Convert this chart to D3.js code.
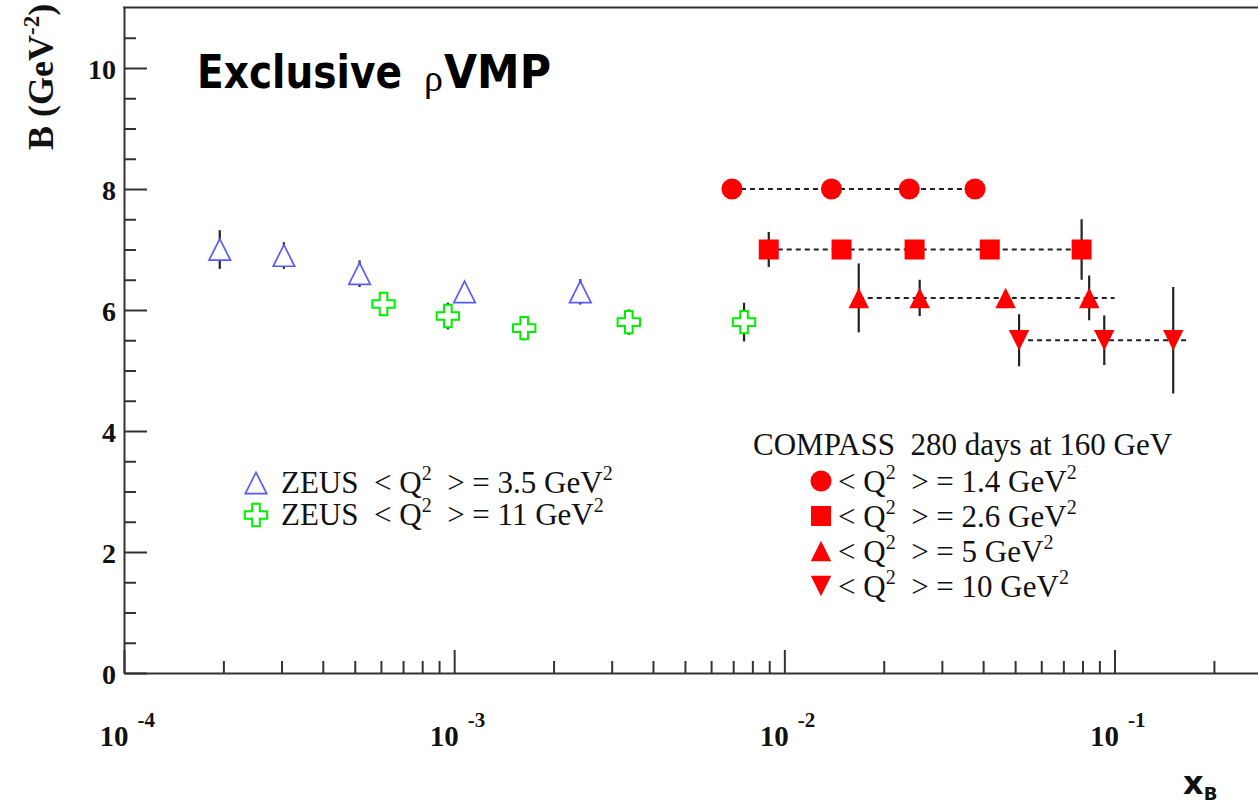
<!DOCTYPE html>
<html>
<head>
<meta charset="utf-8">
<script src="https://cdn.jsdelivr.net/npm/d3@7"></script>
<style>
  body { margin: 0; background: #fff; }
  svg { display: block; }
  text { white-space: pre; }
</style>
</head>
<body>
<svg id="chart" width="1258" height="803"></svg>
<script>
// ZEUS <Q2> = 3.5 GeV2 (open blue triangles)
const zeus35X   = [1.95e-4, 3.05e-4, 5.17e-4, 1.075e-3, 2.41e-3];
const zeus35B   = [7.0, 6.9, 6.6, 6.3, 6.3];
const zeus35Err = [0.32, 0.22, 0.22, 0.15, 0.21];

// ZEUS <Q2> = 11 GeV2 (open green crosses)
const zeus11X   = [6.11e-4, 9.57e-4, 1.63e-3, 3.38e-3, 7.55e-3];
const zeus11B   = [6.1, 5.9, 5.7, 5.8, 5.8];
const zeus11Err = [0.2, 0.22, 0.2, 0.21, 0.32];

// COMPASS projections, 280 days at 160 GeV
const c14X   = [6.94e-3, 1.389e-2, 2.39e-2, 3.78e-2];
const c14B   = [8.0, 8.0, 8.0, 8.0];
const c14Err = [0.12, 0.12, 0.12, 0.12];

const c26X   = [8.97e-3, 1.49e-2, 2.48e-2, 4.19e-2, 7.95e-2];
const c26B   = [7.0, 7.0, 7.0, 7.0, 7.0];
const c26Err = [0.29, 0.12, 0.12, 0.12, 0.5];

const c5X   = [1.68e-2, 2.57e-2, 4.68e-2, 8.38e-2];
const c5B   = [6.2, 6.2, 6.2, 6.2];
const c5Err = [0.57, 0.3, 0.12, 0.37];

const c10X   = [5.14e-2, 9.31e-2, 0.1506];
const c10B   = [5.5, 5.5, 5.5];
const c10Err = [0.43, 0.41, 0.88];

// where the dotted guide lines stop (xB)
const guideEnds = [3.78e-2, 7.95e-2, 0.1, 0.167];

const yMajor = [0, 2, 4, 6, 8, 10];
const xMajor = [1e-4, 1e-3, 1e-2, 1e-1];
const xMajorExp = ["-4", "-3", "-2", "-1"];

const zeusLabels = ["3.5", "11"];
const compassLabels = ["1.4", "2.6", "5", "10"];

const serif = "'Liberation Serif', 'Times New Roman', serif";
const sans = "'DejaVu Sans', Verdana, sans-serif";

const svg = d3.select("#chart");

const x = d3.scaleLog().domain([1e-4, 0.272]).range([124, 1258]);
const y = d3.scaleLinear().domain([0, 11]).range([673, 7.5]);

// custom marker shapes
const triUp = { draw(ctx, size) { const s = Math.sqrt(size);
  ctx.moveTo(0, -s / 2); ctx.lineTo(s / 2, s / 2); ctx.lineTo(-s / 2, s / 2); ctx.closePath(); } };
const triDown = { draw(ctx, size) { const s = Math.sqrt(size);
  ctx.moveTo(0, s / 2); ctx.lineTo(s / 2, -s / 2); ctx.lineTo(-s / 2, -s / 2); ctx.closePath(); } };
const cross = { draw(ctx, size) { const a = Math.sqrt(size) / 2, b = a * 0.34;
  ctx.moveTo(-b, -a); ctx.lineTo(b, -a); ctx.lineTo(b, -b); ctx.lineTo(a, -b); ctx.lineTo(a, b);
  ctx.lineTo(b, b); ctx.lineTo(b, a); ctx.lineTo(-b, a); ctx.lineTo(-b, b); ctx.lineTo(-a, b);
  ctx.lineTo(-a, -b); ctx.lineTo(-b, -b); ctx.closePath(); } };

const zeus = [
  { xs: zeus35X, bs: zeus35B, errs: zeus35Err, type: triUp, size: 460, fill: "#fff", stroke: "#5a5aff", sw: 1.7 },
  { xs: zeus11X, bs: zeus11B, errs: zeus11Err, type: cross, size: 500, fill: "#fff", stroke: "#00ee00", sw: 2 }
];
const compass = [
  { xs: c14X, bs: c14B, errs: c14Err, type: d3.symbolCircle, size: Math.PI * 10.5 * 10.5 },
  { xs: c26X, bs: c26B, errs: c26Err, type: d3.symbolSquare, size: 400 },
  { xs: c5X, bs: c5B, errs: c5Err, type: triUp, size: 420 },
  { xs: c10X, bs: c10B, errs: c10Err, type: triDown, size: 420 }
];
compass.forEach(s => { s.fill = "#ff0000"; s.stroke = "none"; s.sw = 0; });

// ---- axes ----
const yAxisMajor = svg.append("g").attr("transform", "translate(124,0)")
  .call(d3.axisLeft(y).tickValues(yMajor).tickSize(-23).tickSizeOuter(0).tickPadding(8));
svg.append("g").attr("transform", "translate(124,0)")
  .call(d3.axisLeft(y).tickValues(d3.range(0.5, 11, 0.5).filter(v => v % 2 !== 0)).tickSize(-12).tickFormat(""))
  .select(".domain").remove();
yAxisMajor.selectAll(".tick text")
  .style("font-family", serif).style("font-size", "28px").style("font-weight", "bold").attr("fill", "#111")
  .attr("dy", "0.36em");

const xAxisMajor = svg.append("g").attr("transform", "translate(0,673)")
  .call(d3.axisBottom(x).tickValues(xMajor).tickSize(-23).tickSizeOuter(0).tickFormat(""));
svg.append("g").attr("transform", "translate(0,673)")
  .call(d3.axisBottom(x).tickValues(x.ticks().filter(v => !xMajor.some(m => Math.abs(v / m - 1) < 1e-6))).tickSize(-12).tickFormat(""))
  .select(".domain").remove();
xAxisMajor.selectAll(".tick").append("text")
  .attr("x", -25).attr("y", 73).attr("text-anchor", "start")
  .style("font-family", serif).style("font-size", "29px").style("font-weight", "bold").attr("fill", "#111")
  .text("10")
  .append("tspan").attr("dx", 9).attr("dy", -19).style("font-size", "21px")
  .text((d, i) => xMajorExp[i]);

svg.selectAll(".domain, .tick line").attr("stroke", "#333").attr("stroke-width", 2);

// top frame
svg.append("line").attr("x1", 123).attr("x2", 1258).attr("y1", y(11)).attr("y2", y(11))
  .attr("stroke", "#333").attr("stroke-width", 2);

// axis titles
const yTitle = svg.append("text").attr("transform", "translate(53,150) rotate(-90)")
  .style("font-family", serif).style("font-size", "36px").style("font-weight", "bold").attr("fill", "#111");
yTitle.append("tspan").text("B (GeV");
yTitle.append("tspan").attr("dy", -14).style("font-size", "23px").text("-2");
yTitle.append("tspan").attr("dy", 14).text(")");

const xTitle = svg.append("text").attr("x", 1183).attr("y", 794)
  .style("font-family", sans).style("font-size", "32px").style("font-weight", "bold").attr("fill", "#111");
xTitle.append("tspan").text("x");
xTitle.append("tspan").attr("dy", 6).style("font-size", "18px").text("B");

// title
svg.append("text").attr("x", 197).attr("y", 88).attr("textLength", 205).attr("lengthAdjust", "spacingAndGlyphs")
  .style("font-family", sans).style("font-size", "46px").style("font-weight", "bold").attr("fill", "#000")
  .text("Exclusive");
svg.append("text").attr("x", 424).attr("y", 91)
  .style("font-family", serif).style("font-size", "38px").attr("fill", "#000").text("ρ");
svg.append("text").attr("x", 444).attr("y", 88).attr("textLength", 107).attr("lengthAdjust", "spacingAndGlyphs")
  .style("font-family", sans).style("font-size", "46px").style("font-weight", "bold").attr("fill", "#000")
  .text("VMP");

// ---- data ----
const plot = svg.append("g");

// dotted guides for COMPASS bins
compass.forEach((s, i) => {
  plot.append("line")
    .attr("x1", x(s.xs[0])).attr("x2", x(guideEnds[i]))
    .attr("y1", y(s.bs[0])).attr("y2", y(s.bs[0]))
    .attr("stroke", "#222").attr("stroke-width", 2).attr("stroke-dasharray", "5,4");
});

const allSeries = zeus.concat(compass);
allSeries.forEach(s => {
  const pts = s.xs.map((v, i) => ({ xv: v, b: s.bs[i], e: s.errs[i] }));
  plot.append("g").selectAll("line").data(pts).join("line")
    .attr("x1", d => x(d.xv)).attr("x2", d => x(d.xv))
    .attr("y1", d => y(d.b + d.e)).attr("y2", d => y(d.b - d.e))
    .attr("stroke", "#222").attr("stroke-width", 2.2);
  plot.append("g").selectAll("path").data(pts).join("path")
    .attr("transform", d => `translate(${x(d.xv)},${y(d.b)})`)
    .attr("d", d3.symbol().type(s.type).size(s.size))
    .attr("fill", s.fill).attr("stroke", s.stroke).attr("stroke-width", s.sw);
});

// ---- legends ----
function qLine(g, xPos, yPos, prefix, val) {
  const t = g.append("text").attr("x", xPos).attr("y", yPos)
    .style("font-family", serif).style("font-size", "31px").attr("fill", "#111");
  t.append("tspan").text(prefix + "< Q");
  t.append("tspan").attr("dy", -13).style("font-size", "20px").text("2");
  t.append("tspan").attr("dy", 13).text("  > = " + val + " GeV");
  t.append("tspan").attr("dy", -13).style("font-size", "20px").text("2");
}

const leg = svg.append("g");
zeus.forEach((s, i) => {
  const yy = 493 + i * 32;
  leg.append("path").attr("transform", `translate(256,${yy - 10})`)
    .attr("d", d3.symbol().type(s.type).size(s.size))
    .attr("fill", s.fill).attr("stroke", s.stroke).attr("stroke-width", s.sw);
  qLine(leg, 281, yy, "ZEUS  ", zeusLabels[i]);
});

leg.append("text").attr("x", 753).attr("y", 455)
  .style("font-family", serif).style("font-size", "31px").attr("fill", "#111")
  .text("COMPASS  280 days at 160 GeV");
compass.forEach((s, i) => {
  const yy = 492 + i * 35;
  leg.append("path").attr("transform", `translate(821,${yy - 11})`)
    .attr("d", d3.symbol().type(s.type).size(s.size))
    .attr("fill", s.fill);
  qLine(leg, 838, yy, "", compassLabels[i]);
});
</script>
</body>
</html>
